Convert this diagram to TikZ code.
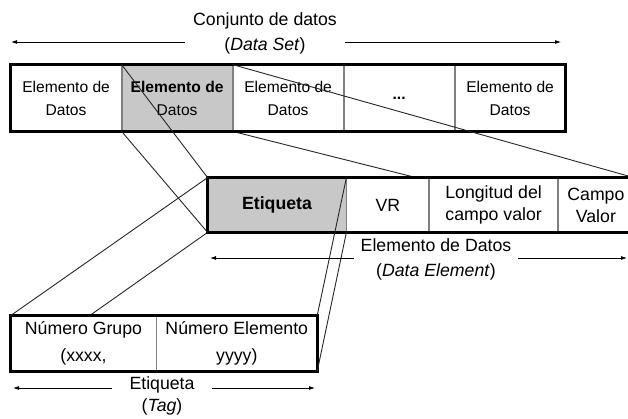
\documentclass[tikz,border=0pt]{standalone}
\usepackage{fontspec}
\setmainfont{Liberation Sans}
\usetikzlibrary{positioning,arrows.meta,backgrounds}
\definecolor{dotgray}{RGB}{200,200,200}
\definecolor{rulegray}{RGB}{128,128,128}

\tikzset{
  cellbase/.style={draw=rulegray,line width=0.8pt,fill=white,inner sep=0pt,align=center},
  setcell/.style={cellbase,minimum width=110.2pt,minimum height=66pt,font=\fontsize{15.6}{23}\selectfont},
  elemcell/.style={cellbase,minimum height=54pt,font=\fontsize{17.7}{22}\selectfont},
  tagcell/.style={cellbase,minimum height=55pt,font=\fontsize{17.7}{27}\selectfont},
  picked/.style={fill=dotgray},
  frame/.style={line width=2.8pt},
  link/.style={line width=0.9pt,black!85},
  dimarrow/.style={line width=0.8pt,-{Latex[length=6pt,width=4pt]}},
  dimlabel/.style={align=center,inner ysep=0pt,font=\fontsize{17.7}{25}\selectfont}
}

\begin{document}
\begin{tikzpicture}[x=1pt,y=-1pt]
  \useasboundingbox (0,0) rectangle (628,418);
  % Data set
  \node[setcell] (set1) at (66.1,98) {Elemento de\\Datos};
  \node[setcell,picked,right=0pt of set1] (set2) {\bfseries Elemento de\\Datos};
  \node[setcell,right=0pt of set2] (set3) {Elemento de\\Datos};
  \node[setcell,right=0pt of set3] (set4) {\bfseries ...};
  \node[setcell,right=0pt of set4] (set5) {Elemento de\\Datos};
  \draw[frame] (set1.north west) rectangle (set5.south east);
  % Data element
  \node[elemcell,picked,minimum width=138pt] (elem1) at (277,205) {\bfseries Etiqueta};
  \node[elemcell,minimum width=82pt,right=0pt of elem1] (elem2) {VR};
  \node[elemcell,minimum width=128pt,right=0pt of elem2] (elem3) {Longitud del\\campo valor};
  \node[elemcell,minimum width=75pt,right=0pt of elem3] (elem4) {Campo\\Valor};
  \draw[frame] (elem1.north west) rectangle (elem4.south east);
  % Tag
  \node[tagcell,minimum width=145pt] (tag1) at (83.5,343.5) {Número Grupo\\(xxxx,};
  \node[tagcell,minimum width=160pt,right=0pt of tag1] (tag2) {Número Elemento\\yyyy)};
  \draw[frame] (tag1.north west) rectangle (tag2.south east);
  % Zoom lines
  \draw[link] (set2.north west) -- (elem1.north west);
  \draw[link] (set2.south west) -- (elem1.south west);
  \draw[link] (set2.north east) -- (elem4.north east);
  \draw[link] (elem1.north west) -- (tag1.north west);
  \draw[link] (elem1.north east) -- (tag2.north east);
  \draw[link] (elem1.south east) -- (tag2.south east);
  \begin{scope}[on background layer]
    \draw[link] (set2.south east) -- (elem4.south east);
    \draw[link] (elem1.south west) -- (tag1.south west);
  \end{scope}
  % Span labels
  \node[dimlabel,inner xsep=8pt] (setlbl) at (265,33.5) {Conjunto de datos\\(\textit{Data Set})};
  \coordinate (setL) at (11,42);
  \coordinate (setR) at (561,42);
  \draw[dimarrow] (setlbl.west |- setL) -- (setL);
  \draw[dimarrow] (setlbl.east |- setR) -- (setR);
  \node[dimlabel,inner xsep=6.5pt] (elemlbl) at (436,259.5) {Elemento de Datos\\(\textit{Data Element})};
  \coordinate (elemL) at (210,258);
  \coordinate (elemR) at (627,258);
  \draw[dimarrow] (elemlbl.west |- elemL) -- (elemL);
  \draw[dimarrow] (elemlbl.east |- elemR) -- (elemR);
  \node[dimlabel,inner xsep=17pt,font=\fontsize{17.7}{22}\selectfont] (taglbl) at (162,396) {Etiqueta\\(\textit{Tag})};
  \coordinate (tagL) at (13,388);
  \coordinate (tagR) at (315,388);
  \draw[dimarrow] (taglbl.west |- tagL) -- (tagL);
  \draw[dimarrow] (taglbl.east |- tagR) -- (tagR);
\end{tikzpicture}
\end{document}
